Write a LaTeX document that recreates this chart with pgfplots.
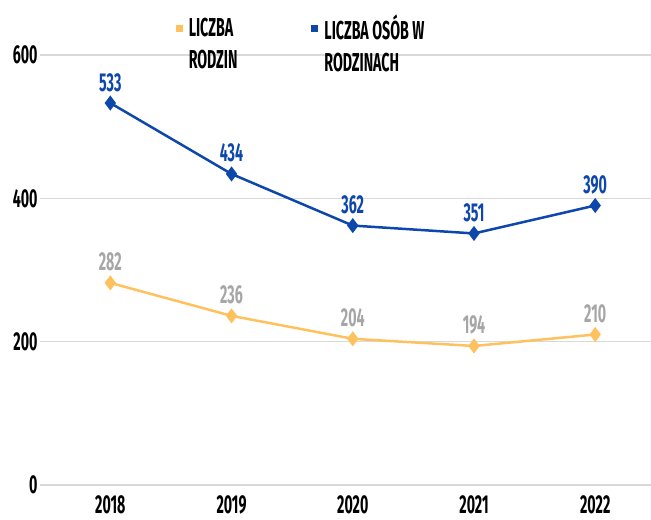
\documentclass[border=0pt]{standalone}
\usepackage{fontspec}
\setmainfont{Fira Sans}[FakeStretch=0.55]
\usepackage{pgfplots}
\pgfplotsset{compat=1.18}
\definecolor{cblue}{RGB}{13,71,171}
\definecolor{corange}{RGB}{255,193,94}
\definecolor{cgrid}{RGB}{217,217,217}
\definecolor{clab}{RGB}{166,166,166}
\newcommand{\cf}{\fontsize{26}{32}\selectfont\bfseries}
\begin{document}
\begin{tikzpicture}
\path[use as bounding box] (-40bp,-35bp) rectangle (611bp,485bp);
\begin{axis}[
  at={(0,0)}, anchor=south west,
  scale only axis, width=611bp, height=430bp,
  xmin=-0.58, xmax=4.46, ymin=0, ymax=600,
  xtick={0,1,2,3,4}, xticklabels={2018,2019,2020,2021,2022},
  ytick={0,200,400,600},
  axis line style={draw=none}, major tick style={draw=none},
  ymajorgrids, grid style={cgrid, line width=1.2bp},
  /pgf/number format/assume math mode=true,
  ticklabel style={font=\cf},
  yticklabel style={xshift=1bp},
  xticklabel style={yshift=-7bp},
  clip=false,
  legend style={draw=none, fill=none, at={(0.217,1.103)}, anchor=north west,
    legend columns=2, font=\cf, cells={align=left, anchor=west},
    /tikz/every even column/.append style={column sep=72bp}},
  every node near coord/.append style={font=\cf, yshift=7bp},
]
\addplot[corange, line width=2.5bp, mark=diamond*, mark size=5.5bp,
  nodes near coords, every node near coord/.append style={text=clab},
  legend image code/.code={\fill[corange, draw=none] (0bp,12bp) rectangle (7bp,19bp);
    \path[draw=none, fill=none] (0bp,15bp) -- (11bp,15bp);}]
  coordinates {(0,282) (1,236) (2,204) (3,194) (4,210)};
\addlegendentry{LICZBA\\RODZIN}
\addplot[cblue, line width=2.5bp, mark=diamond*, mark size=5.5bp,
  nodes near coords, every node near coord/.append style={text=cblue},
  legend image code/.code={\fill[cblue, draw=none] (0bp,12bp) rectangle (7bp,19bp);
    \path[draw=none, fill=none] (0bp,15bp) -- (11bp,15bp);}]
  coordinates {(0,533) (1,434) (2,362) (3,351) (4,390)};
\addlegendentry{LICZBA OSÓB W\\RODZINACH}
\end{axis}
\end{tikzpicture}
\end{document}
